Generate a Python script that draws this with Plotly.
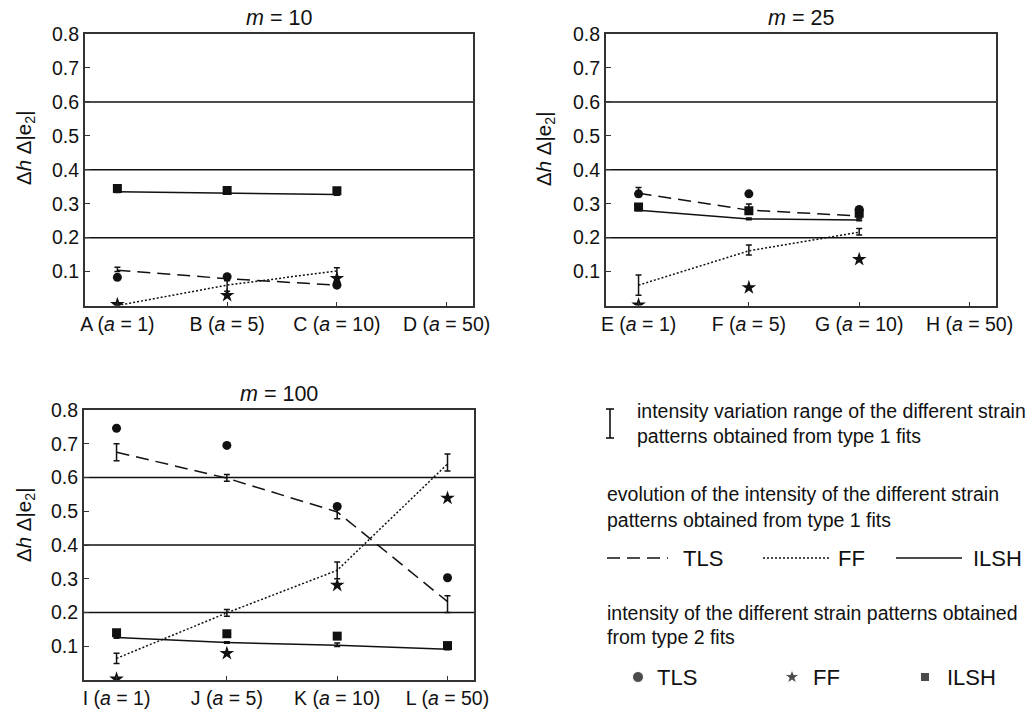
import plotly.graph_objects as go

# ---------------- data ----------------
pos = [0, 1, 2, 3]
labels_m10 = ["A (<i>a</i> = 1)", "B (<i>a</i> = 5)", "C (<i>a</i> = 10)", "D (<i>a</i> = 50)"]
labels_m25 = ["E (<i>a</i> = 1)", "F (<i>a</i> = 5)", "G (<i>a</i> = 10)", "H (<i>a</i> = 50)"]
labels_m100 = ["I (<i>a</i> = 1)", "J (<i>a</i> = 5)", "K (<i>a</i> = 10)", "L (<i>a</i> = 50)"]
titles = ["<i>m</i> = 10", "<i>m</i> = 25", "<i>m</i> = 100"]

y_ticks = [0.1, 0.2, 0.3, 0.4, 0.5, 0.6, 0.7, 0.8]
grid_levels = [0.2, 0.4, 0.6]

# type 1 fits (lines) with variation range (low/high)
m10_tls_line = [0.104, 0.079, 0.060]
m10_tls_lo = [0.100, 0.075, 0.055]
m10_tls_hi = [0.113, 0.083, 0.068]
m10_ff_line = [0.000, 0.060, 0.102]
m10_ff_lo = [0.000, 0.042, 0.070]
m10_ff_hi = [0.000, 0.073, 0.111]
m10_ilsh_line = [0.335, 0.331, 0.327]
m10_ilsh_lo = [0.333, 0.329, 0.325]
m10_ilsh_hi = [0.337, 0.333, 0.329]

m25_tls_line = [0.331, 0.281, 0.264]
m25_tls_lo = [0.321, 0.272, 0.258]
m25_tls_hi = [0.348, 0.299, 0.270]
m25_ff_line = [0.060, 0.161, 0.216]
m25_ff_lo = [0.030, 0.149, 0.208]
m25_ff_hi = [0.090, 0.178, 0.227]
m25_ilsh_line = [0.281, 0.255, 0.252]
m25_ilsh_lo = [0.279, 0.253, 0.250]
m25_ilsh_hi = [0.284, 0.258, 0.255]

m100_tls_line = [0.675, 0.598, 0.498, 0.232]
m100_tls_lo = [0.650, 0.589, 0.478, 0.200]
m100_tls_hi = [0.700, 0.609, 0.512, 0.250]
m100_ff_line = [0.064, 0.199, 0.325, 0.640]
m100_ff_lo = [0.049, 0.189, 0.300, 0.619]
m100_ff_hi = [0.079, 0.209, 0.350, 0.670]
m100_ilsh_line = [0.126, 0.111, 0.103, 0.091]
m100_ilsh_lo = [0.124, 0.109, 0.099, 0.090]
m100_ilsh_hi = [0.128, 0.113, 0.110, 0.092]

# type 2 fits (points)
m10_tls_pts = [0.083, 0.085, 0.060]
m10_ff_pts = [0.003, 0.030, 0.080]
m10_ilsh_pts = [0.345, 0.339, 0.338]

m25_tls_pts = [0.329, 0.329, 0.283]
m25_ff_pts = [0.002, 0.053, 0.136]
m25_ilsh_pts = [0.290, 0.279, 0.272]

m100_tls_pts = [0.746, 0.695, 0.514, 0.303]
m100_ff_pts = [0.003, 0.079, 0.281, 0.539]
m100_ilsh_pts = [0.140, 0.137, 0.130, 0.102]

# ---------------- styling ----------------
FONT = "Liberation Sans, Arial, sans-serif"
W, H = 1030, 711
INK = "#111111"
FRAME = "#333333"
TICK_SIZE = 19.5

def px_x(p):
    return p / W

def px_y(p):
    return 1 - p / H

panels = [
    dict(xd=[85, 473], yd=[34, 305.5], labels=labels_m10, title=titles[0],
         tls=(m10_tls_line, m10_tls_lo, m10_tls_hi), ff=(m10_ff_line, m10_ff_lo, m10_ff_hi),
         ilsh=(m10_ilsh_line, m10_ilsh_lo, m10_ilsh_hi),
         pts=(m10_tls_pts, m10_ff_pts, m10_ilsh_pts), ytitle_c=148, ytitle_x=25),
    dict(xd=[606, 996], yd=[34, 305.5], labels=labels_m25, title=titles[1],
         tls=(m25_tls_line, m25_tls_lo, m25_tls_hi), ff=(m25_ff_line, m25_ff_lo, m25_ff_hi),
         ilsh=(m25_ilsh_line, m25_ilsh_lo, m25_ilsh_hi),
         pts=(m25_tls_pts, m25_ff_pts, m25_ilsh_pts), ytitle_c=149, ytitle_x=545),
    dict(xd=[84, 474], yd=[410, 680], labels=labels_m100, title=titles[2],
         tls=(m100_tls_line, m100_tls_lo, m100_tls_hi), ff=(m100_ff_line, m100_ff_lo, m100_ff_hi),
         ilsh=(m100_ilsh_line, m100_ilsh_lo, m100_ilsh_hi),
         pts=(m100_tls_pts, m100_ff_pts, m100_ilsh_pts), ytitle_c=525, ytitle_x=25),
]

fig = go.Figure()
annotations = []
shapes = []

line_styles = {
    "tls": dict(dash="13px,7px", width=1.5),
    "ff": dict(dash="2px,2px", width=1.5),
    "ilsh": dict(dash="solid", width=1.5),
}

for i, p in enumerate(panels):
    n = i + 1
    xa = "x" if n == 1 else f"x{n}"
    ya = "y" if n == 1 else f"y{n}"
    for key in ["tls", "ff", "ilsh"]:
        vals, lo, hi = p[key]
        xs = pos[:len(vals)]
        fig.add_trace(go.Scatter(
            x=xs, y=vals, mode="lines", xaxis=xa, yaxis=ya, showlegend=False,
            line=dict(color=INK, width=line_styles[key]["width"], dash=line_styles[key]["dash"]),
            error_y=dict(type="data", symmetric=False,
                         array=[h - v for h, v in zip(hi, vals)],
                         arrayminus=[v - l for v, l in zip(vals, lo)],
                         color=INK, thickness=1.5, width=3),
        ))
    tls_p, ff_p, ilsh_p = p["pts"]
    xs = pos[:len(tls_p)]
    fig.add_trace(go.Scatter(x=xs, y=ilsh_p, mode="markers", xaxis=xa, yaxis=ya, showlegend=False,
                             marker=dict(symbol="square", size=9, color=INK)))
    fig.add_trace(go.Scatter(x=xs, y=tls_p, mode="markers", xaxis=xa, yaxis=ya, showlegend=False,
                             marker=dict(symbol="circle", size=9, color=INK)))
    fig.add_trace(go.Scatter(x=xs, y=ff_p, mode="markers", xaxis=xa, yaxis=ya, showlegend=False,
                             marker=dict(symbol="star", size=11, color=INK)))

    axkey_x = "xaxis" if n == 1 else f"xaxis{n}"
    axkey_y = "yaxis" if n == 1 else f"yaxis{n}"
    fig.update_layout(**{
        axkey_x: dict(domain=[px_x(p["xd"][0]), px_x(p["xd"][1])], range=[-0.295, 3.24],
                      tickvals=pos, ticktext=p["labels"], ticks="inside", ticklen=4, tickwidth=1.2,
                      tickcolor=FRAME, showline=True, mirror=True, linecolor=FRAME, linewidth=2,
                      showgrid=False, zeroline=False, anchor=ya, automargin=False,
                      tickfont=dict(size=TICK_SIZE, color=INK, family=FONT)),
        axkey_y: dict(domain=[px_y(p["yd"][1]), px_y(p["yd"][0])], range=[0, 0.8],
                      tickvals=y_ticks, ticktext=[f"{v:.1f}" for v in y_ticks],
                      ticks="inside", ticklen=5, tickwidth=1.2, tickcolor=FRAME,
                      showline=True, mirror=True, linecolor=FRAME, linewidth=2,
                      showgrid=False, zeroline=False, anchor=xa, automargin=False,
                      tickfont=dict(size=TICK_SIZE, color=INK, family=FONT)),
    })
    for g in grid_levels:
        shapes.append(dict(type="line", xref=f"{xa} domain", yref=ya, x0=0, x1=1, y0=g, y1=g,
                           line=dict(color=INK, width=1.5), layer="below"))
    annotations.append(dict(text=p["title"], xref="paper", yref="paper",
                            x=px_x((p["xd"][0] + p["xd"][1]) / 2), y=px_y(p["yd"][0] - 16),
                            showarrow=False, xanchor="center", yanchor="middle",
                            font=dict(size=21.5, color=INK, family=FONT)))
    annotations.append(dict(text="Δ<i>h</i> Δ|e<sub>2</sub>|", xref="paper", yref="paper",
                            x=px_x(p["ytitle_x"]), y=px_y(p["ytitle_c"]), textangle=-90,
                            showarrow=False, xanchor="center", yanchor="middle",
                            font=dict(size=20.5, color=INK, family=FONT)))

# ---------------- legend block ----------------
def txt(s, x, y, size=19.5):
    annotations.append(dict(text=s, xref="paper", yref="paper", x=px_x(x), y=px_y(y),
                            showarrow=False, xanchor="left", yanchor="middle",
                            font=dict(size=size, color=INK, family=FONT)))

def seg(x0, y0, x1, y1, w=1.5, dash="solid"):
    shapes.append(dict(type="line", xref="paper", yref="paper", x0=px_x(x0), x1=px_x(x1),
                       y0=px_y(y0), y1=px_y(y1), line=dict(color=INK, width=w, dash=dash)))

# error-bar key
seg(610, 409, 610, 438, 1.6)
seg(606, 409, 614, 409, 1.6)
seg(606, 438, 614, 438, 1.6)
txt("intensity variation range of the different strain", 635, 411)
txt("patterns obtained from type 1 fits", 635, 436)

txt("evolution of the intensity of the different strain", 605, 494)
txt("patterns obtained from type 1 fits", 605, 520)
seg(607, 558, 668, 558, 1.5, "13px,7px")
txt("TLS", 681, 558, 22)
seg(763, 558, 831, 558, 1.5, "2px,2px")
txt("FF", 836, 558, 22)
seg(896, 558, 962, 558, 1.5)
txt("ILSH", 971, 558, 22)

txt("intensity of the different strain patterns obtained", 605, 613)
txt("from type 2 fits", 605, 637)

# marker keys on a hidden overlay axis spanning the legend row (pixel coords)
key_x = [638, 792, 925]
key_sym = ["circle", "star", "square"]
key_size = [11, 11, 9]
fig.add_trace(go.Scatter(x=key_x, y=[677, 677, 677], mode="markers", xaxis="x4", yaxis="y4",
                         showlegend=False, hoverinfo="skip",
                         marker=dict(symbol=key_sym, size=key_size, color="#000000")))
fig.update_layout(
    xaxis4=dict(domain=[0, 1], range=[0, W], visible=False, anchor="y4", automargin=False),
    yaxis4=dict(domain=[0, 1], range=[H, 0], visible=False, anchor="x4", automargin=False),
)
txt("TLS", 655, 677, 22)
txt("FF", 811, 677, 22)
txt("ILSH", 945, 677, 22)

fig.update_layout(
    width=W, height=H, margin=dict(l=0, r=0, t=0, b=0, autoexpand=False),
    paper_bgcolor="white", plot_bgcolor="rgba(0,0,0,0)",
    font=dict(family=FONT, color=INK),
    annotations=annotations, shapes=shapes, showlegend=False,
)

fig.write_html("out.html")
